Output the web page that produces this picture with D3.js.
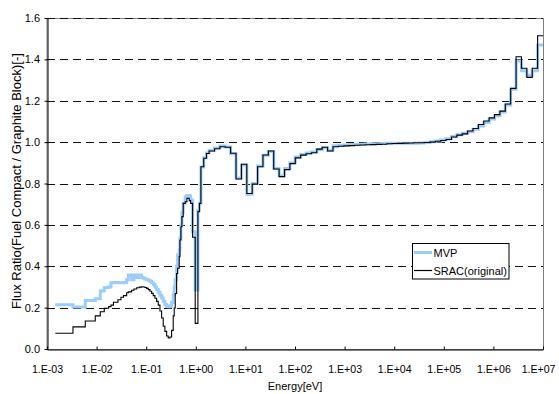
<!DOCTYPE html>
<html><head><meta charset="utf-8">
<script src="https://cdn.jsdelivr.net/npm/d3@7"></script>
<style>
body{margin:0;background:#fff}
svg text{font-family:"Liberation Sans",Arial,Helvetica,sans-serif;fill:#000}
</style>
</head><body>
<svg id="chart" width="559" height="394"></svg>
<script>
// Group boundaries (eV), ascending
const energyEdges = [
  1.47e-3, 3.34e-3, 5.91e-3, 9.40e-3, 1.186e-2, 1.427e-2, 1.750e-2, 1.949e-2, 2.187e-2, 2.695e-2,
  3.097e-2, 3.478e-2, 4.035e-2, 4.345e-2, 5.087e-2, 5.662e-2, 6.418e-2, 7.241e-2, 8.094e-2, 8.717e-2,
  9.432e-2, 0.1021, 0.1099, 0.1190, 0.1287, 0.1386, 0.1500, 0.1623, 0.1748, 0.1892,
  0.2047, 0.2205, 0.2385, 0.2581, 0.2780, 0.3008, 0.3255, 0.3506, 0.3673, 0.3848,
  0.4106, 0.4301, 0.4632, 0.4785, 0.5012, 0.5250, 0.5576, 0.6116, 0.6620, 0.7366,
  0.7860, 0.8624, 0.9730, 1.103, 1.182, 1.268, 1.445, 1.64, 1.855, 2.382,
  3.059, 3.928, 5.043, 6.476, 8.315, 10.68, 13.71, 17.60, 22.60, 29.02,
  37.27, 47.85, 61.44, 78.89, 101.3, 130.1, 167.0, 214.4, 275.4, 353.6,
  454.0, 582.9, 748.5, 961.1, 1234, 1585, 2035, 2613, 3355, 4307,
  5531, 7102, 9119, 11710, 15030, 19300, 24790, 31830, 40870, 52480,
  67380, 86520, 111100, 142600, 183200, 235200, 302000, 387700, 497900, 639300,
  820900, 1054000, 1353000, 1738000, 2231000, 2865000, 3679000, 4724000, 6065000, 7788000,
  1e7
];
// SRAC(original) flux ratio per group
const sracValues = [
  0.076, 0.107, 0.135, 0.160, 0.180, 0.197, 0.205, 0.212, 0.226, 0.238,
  0.250, 0.258, 0.272, 0.276, 0.284, 0.290, 0.296, 0.299, 0.301, 0.300,
  0.297, 0.293, 0.287, 0.279, 0.269, 0.258, 0.245, 0.230, 0.212, 0.184,
  0.150, 0.110, 0.085, 0.063, 0.053, 0.058, 0.090, 0.160, 0.198, 0.268,
  0.365, 0.390, 0.446, 0.527, 0.591, 0.640, 0.704, 0.712, 0.728, 0.717,
  0.704, 0.540, 0.124, 0.664, 0.704, 0.881, 0.922, 0.945, 0.957, 0.968,
  0.978, 0.975, 0.946, 0.822, 0.893, 0.752, 0.797, 0.881, 0.938, 0.957,
  0.870, 0.833, 0.867, 0.896, 0.924, 0.937, 0.944, 0.949, 0.966, 0.975,
  0.957, 0.978, 0.980, 0.982, 0.983, 0.985, 0.986, 0.987, 0.988, 0.989,
  0.990, 0.992, 0.993, 0.994, 0.995, 0.996, 0.997, 0.997, 0.998, 1.000,
  1.004, 1.008, 1.013, 1.025, 1.034, 1.040, 1.054, 1.066, 1.085, 1.102,
  1.117, 1.133, 1.150, 1.184, 1.260, 1.413, 1.357, 1.313, 1.357, 1.514
];
// MVP flux ratio per group
const mvpValues = [
  0.214, 0.203, 0.235, 0.243, 0.280, 0.297, 0.300, 0.320, 0.322, 0.320,
  0.320, 0.322, 0.335, 0.358, 0.335, 0.358, 0.346, 0.358, 0.346, 0.342,
  0.338, 0.335, 0.332, 0.327, 0.320, 0.312, 0.300, 0.288, 0.274, 0.260,
  0.246, 0.230, 0.215, 0.207, 0.204, 0.208, 0.225, 0.262, 0.300, 0.335,
  0.400, 0.454, 0.480, 0.535, 0.600, 0.660, 0.705, 0.736, 0.742, 0.740,
  0.720, 0.567, 0.285, 0.670, 0.705, 0.880, 0.925, 0.948, 0.960, 0.972,
  0.981, 0.977, 0.944, 0.826, 0.890, 0.748, 0.800, 0.884, 0.936, 0.955,
  0.873, 0.838, 0.872, 0.900, 0.928, 0.940, 0.947, 0.952, 0.964, 0.973,
  0.960, 0.982, 0.985, 0.986, 0.988, 0.989, 0.990, 0.991, 0.992, 0.992,
  0.993, 0.994, 0.995, 0.995, 0.994, 0.994, 0.995, 0.996, 0.998, 1.002,
  1.006, 1.010, 1.016, 1.027, 1.036, 1.043, 1.050, 1.062, 1.078, 1.095,
  1.112, 1.128, 1.146, 1.180, 1.255, 1.392, 1.345, 1.322, 1.345, 1.469
];
const xTickValues = [1e-3, 1e-2, 1e-1, 1e0, 1e1, 1e2, 1e3, 1e4, 1e5, 1e6, 1e7];
const xTickLabels = ["1.E-03","1.E-02","1.E-01","1.E+00","1.E+01","1.E+02","1.E+03","1.E+04","1.E+05","1.E+06","1.E+07"];
const yTickValues = [0, 0.2, 0.4, 0.6, 0.8, 1.0, 1.2, 1.4, 1.6];
const yTickLabels = ["0.0","0.2","0.4","0.6","0.8","1.0","1.2","1.4","1.6"];
const seriesNames = ["MVP", "SRAC(original)"];
const xTitle = "Energy[eV]";
const yTitle = "Flux Ratio(Fuel Compact / Graphite Block)[-]";

const svg = d3.select("#chart");
const L = 47, R = 543, T = 18, B = 349;
const x = d3.scaleLog().domain([1e-3, 1e7]).range([L, R]);
const y = d3.scaleLinear().domain([0, 1.6]).range([B, T]);

// plot border
svg.append("rect").attr("x", L).attr("y", T + 0.5).attr("width", R - L + 0.5).attr("height", B - T)
  .attr("fill", "none").attr("stroke", "#808080").attr("stroke-width", 1);

// gridlines
svg.append("g").selectAll("line").data(yTickValues.filter(v => v > 0)).join("line")
  .attr("x1", L).attr("x2", R)
  .attr("y1", d => Math.round(y(d)) + 0.5).attr("y2", d => Math.round(y(d)) + 0.5)
  .attr("stroke", "#111").attr("stroke-width", 1).attr("stroke-dasharray", "8,5");

// step series
function stepPoints(vals) {
  const n = Math.min(vals.length, energyEdges.length - 1);
  const pts = [];
  for (let i = 0; i <= n; i++) pts.push([energyEdges[i], vals[Math.min(i, n - 1)]]);
  return pts;
}
const line = d3.line().x(d => x(d[0])).y(d => y(d[1])).curve(d3.curveStepAfter);
svg.append("path").datum(stepPoints(mvpValues)).attr("d", line)
  .attr("fill", "none").attr("stroke", "#99ccff").attr("stroke-width", 3).attr("stroke-linejoin", "miter");
svg.append("path").datum(stepPoints(sracValues)).attr("d", line)
  .attr("fill", "none").attr("stroke", "#000").attr("stroke-width", 1.1).attr("stroke-linejoin", "miter");

// axes
const xAxis = d3.axisBottom(x).tickValues(xTickValues)
  .tickFormat((d, i) => xTickLabels[i]).tickSizeInner(-3).tickSizeOuter(0).tickPadding(15.5);
const gx = svg.append("g").attr("transform", `translate(0,${B + 0.5})`).call(xAxis);
gx.select(".domain").attr("stroke", "#000");
gx.selectAll(".tick line").attr("stroke", "#000");
gx.selectAll("text").attr("font-size", 10.6).attr("font-family", null);
// keep the last label inside the picture
gx.selectAll(".tick").filter((d, i, n) => i === n.length - 1).select("text")
  .attr("text-anchor", "end").attr("x", 12);

const yAxis = d3.axisLeft(y).tickValues(yTickValues)
  .tickFormat((d, i) => yTickLabels[i]).tickSizeInner(3).tickSizeOuter(0).tickPadding(4.5);
const gy = svg.append("g").attr("transform", `translate(${L + 0.5},0)`).call(yAxis);
gy.select(".domain").attr("stroke", "#000");
gy.selectAll(".tick line").attr("stroke", "#000");
gy.selectAll("text").attr("font-size", 11).attr("font-family", null);

// axis titles
svg.append("text").attr("x", (L + R) / 2).attr("y", 390).attr("text-anchor", "middle")
  .attr("font-size", 11).text(xTitle);
svg.append("text").attr("transform", "translate(20.5,181) rotate(-90)").attr("text-anchor", "middle")
  .attr("font-size", 13).text(yTitle);

// legend
const lg = svg.append("g");
lg.append("rect").attr("x", 412.5).attr("y", 243.5).attr("width", 96.5).attr("height", 35.5)
  .attr("fill", "#fff").attr("stroke", "#000").attr("stroke-width", 1);
const legendStyles = [{c: "#99ccff", w: 3, y: 252.5}, {c: "#000", w: 1.2, y: 270.5}];
seriesNames.forEach((name, i) => {
  const s = legendStyles[i];
  lg.append("line").attr("x1", 414).attr("x2", 432).attr("y1", s.y).attr("y2", s.y)
    .attr("stroke", s.c).attr("stroke-width", s.w);
  lg.append("text").attr("x", 433.5).attr("y", s.y + 4).attr("font-size", 11).text(name);
});
</script>
</body></html>
